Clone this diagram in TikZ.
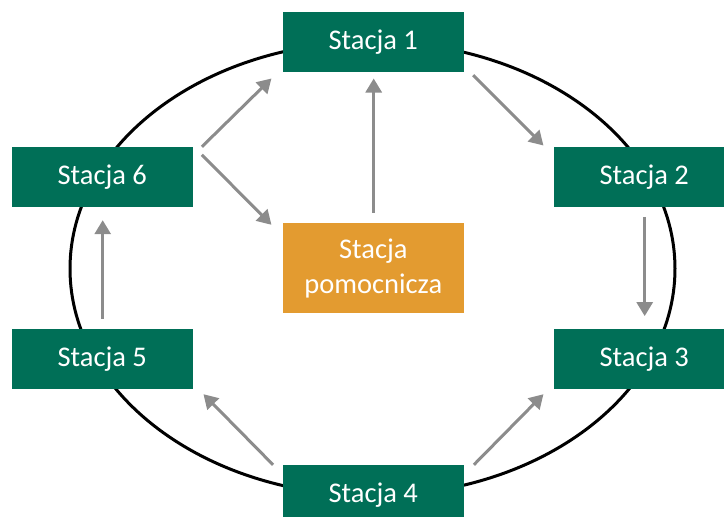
\documentclass[tikz,border=0pt]{standalone}
\usepackage{fontspec}
\setmainfont{Carlito}
\usetikzlibrary{arrows.meta,calc}
\definecolor{stgreen}{HTML}{006F57}
\definecolor{storange}{HTML}{E39B30}
\definecolor{flowgray}{HTML}{8C8C8C}
\begin{document}
\begin{tikzpicture}[x=1pt,y=-1pt,
  station/.style={fill=stgreen, text=white, minimum width=180.7pt, minimum height=60pt,
    inner sep=0pt, font=\fontsize{28.5}{35}\selectfont},
  helper/.style={station, fill=storange, minimum height=90pt, align=center},
  flow/.style={draw=flowgray, line width=3pt, -{Triangle[length=14pt,width=16pt]}},
  ring/.style={draw=black, line width=3pt}]
  \useasboundingbox (0,0) rectangle (724,517);
  % circular route behind the stations
  \draw[ring] (372.5,268.7) ellipse [x radius=302.5, y radius=227];
  % stations
  \node[station] (s1) at (373.3,41.7) {Stacja 1};
  \node[station] (s2) at (644.3,177) {Stacja 2};
  \node[station] (s3) at (644.3,359) {Stacja 3};
  \node[station] (s4) at (373.3,495) {Stacja 4};
  \node[station] (s5) at (102.3,359) {Stacja 5};
  \node[station] (s6) at (102.3,177) {Stacja 6};
  \node[helper] (sp) at (373.3,268) {Stacja\\pomocnicza};
  % flows between stations
  \draw[flow] ($(s6.north east)+(9,0)$) -- ($(s1.south west)+(-11.3,6.6)$);
  \draw[flow] ($(s6.north east)+(9,8)$) -- ($(sp.north west)+(-11.3,2)$);
  \draw[flow] ($(sp.north)+(0.4,-10)$) -- ($(s1.south)+(0.4,6.6)$);
  \draw[flow] ($(s1.south east)+(9.3,3.3)$) -- ($(s2.north west)+(-10.3,-1.3)$);
  \draw[flow] ($(s2.south)+(0.4,9.7)$) -- ($(s3.north)+(0.4,-12.7)$);
  \draw[flow] ($(s4.north east)+(10,0)$) -- ($(s3.south west)+(-10.3,5)$);
  \draw[flow] ($(s4.north west)+(-9.7,0)$) -- ($(s5.south east)+(10.6,5)$);
  \draw[flow] ($(s5.north)+(0.4,-10)$) -- ($(s6.south)+(0.4,13)$);
\end{tikzpicture}
\end{document}
